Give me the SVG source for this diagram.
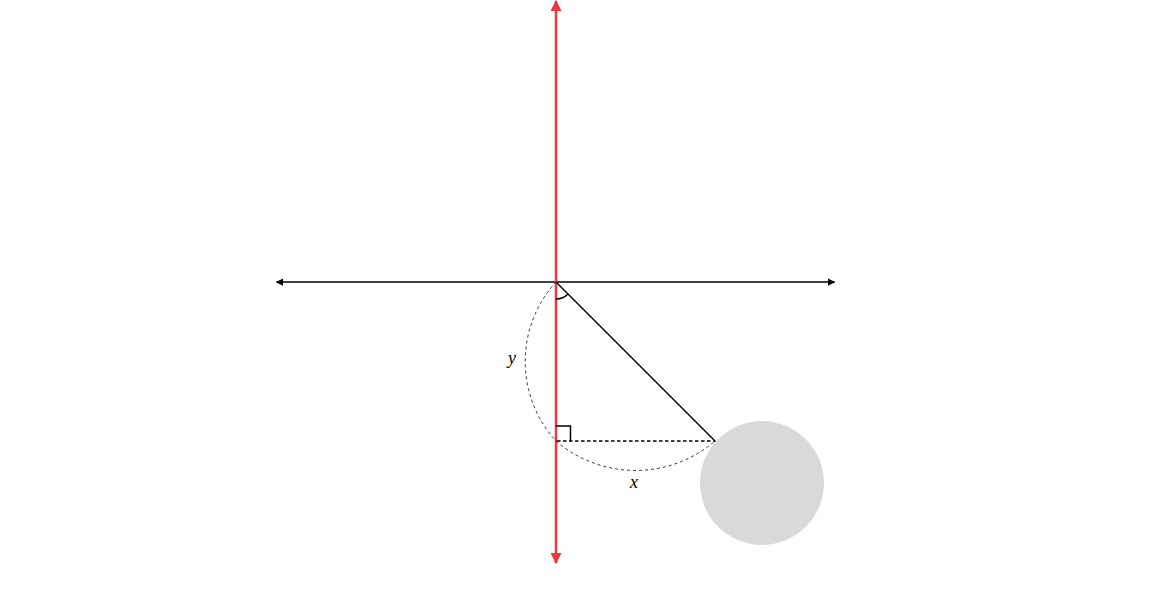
<svg xmlns="http://www.w3.org/2000/svg" width="1151" height="603" viewBox="0 0 1151 603">
<style>
.ax{stroke:#000;stroke-width:1.5;fill:none}
.red{stroke:#e8393b;stroke-width:2.5;fill:none}
.dash{stroke:#333;stroke-width:1;stroke-dasharray:3 3;fill:none}
.dash2{stroke:#000;stroke-width:1.5;stroke-dasharray:3.5 2.5;fill:none}
.lbl{font-family:"Liberation Serif",serif;font-style:italic;font-size:18px;fill:#000}
</style>
<defs>
<marker id="ab" viewBox="0 0 10 10" refX="9" refY="5" markerWidth="5" markerHeight="5" orient="auto-start-reverse" markerUnits="strokeWidth">
<path d="M0,0 L10,5 L0,10 z" fill="#000"/>
</marker>
<marker id="ar" viewBox="0 0 10 10" refX="9" refY="5" markerWidth="4.4" markerHeight="4.4" orient="auto-start-reverse" markerUnits="strokeWidth">
<path d="M0,0 L10,5 L0,10 z" fill="#e8393b"/>
</marker>
</defs>
<rect width="1151" height="603" fill="#fff"/>
<g id="bob"><circle cx="762" cy="483" r="62" fill="#d9d9d9"/></g>
<g id="connectors">
<line id="h-axis" class="ax" x1="276.5" y1="282" x2="834.5" y2="282" marker-start="url(#ab)" marker-end="url(#ab)"/>
<line id="v-axis" class="red" x1="556" y1="1" x2="556" y2="563" marker-start="url(#ar)" marker-end="url(#ar)"/>
<line id="rod" class="ax" x1="556" y1="282" x2="715.5" y2="441.5"/>
<line id="x-leg" class="dash2" x1="557" y1="441" x2="715" y2="441"/>
<path id="y-arc" class="dash" d="M556,282 A118,118 0 0 0 556,441"/>
<path id="x-arc" class="dash" d="M556,441 A122,122 0 0 0 715,441"/>
<path id="angle" class="ax" d="M556,299 A17,17 0 0 0 568,294"/>
<path id="right-angle" class="ax" d="M556,426 H570.5 V441"/>
</g>
<g id="labels">
<text class="lbl" x="512" y="364" text-anchor="middle">y</text>
<text class="lbl" x="634" y="488" text-anchor="middle">x</text>
</g>
</svg>
